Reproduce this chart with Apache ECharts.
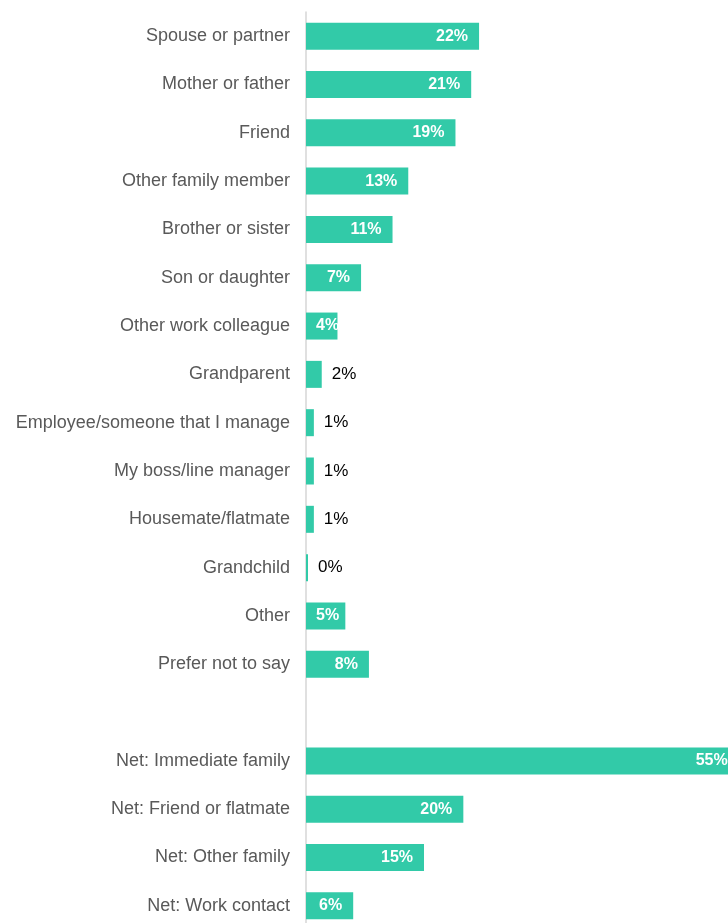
<!DOCTYPE html>
<html>
<head>
<meta charset="utf-8">
<style>
  html, body { margin: 0; padding: 0; background: #ffffff; overflow: hidden; }
  /* The plot runs past the right and bottom edges of the window on purpose:
     the longest bar is cut off by the page edge. */
  #chart { width: 778px; height: 930px; }
</style>
<script src="https://cdn.jsdelivr.net/npm/echarts@6/dist/echarts.min.js"></script>
</head>
<body>
<div id="chart"></div>
<script>
// Who respondents named, as a share of all answers (%)
const categories = [
  'Spouse or partner',
  'Mother or father',
  'Friend',
  'Other family member',
  'Brother or sister',
  'Son or daughter',
  'Other work colleague',
  'Grandparent',
  'Employee/someone that I manage',
  'My boss/line manager',
  'Housemate/flatmate',
  'Grandchild',
  'Other',
  'Prefer not to say',
  '',
  'Net: Immediate family',
  'Net: Friend or flatmate',
  'Net: Other family',
  'Net: Work contact'
];

const shares = [22, 21, 19, 13, 11, 7, 4, 2, 1, 1, 1, 0, 5, 8, null, 55, 20, 15, 6];

const barColor = '#32caa8';
const fontFamily = '"Liberation Sans", Arial, Helvetica, sans-serif';

// Wide bars carry their value inside in white bold; very short bars push
// the label to the start, and the smallest ones put it just past the end.
const seriesData = shares.map(v => {
  if (v === null) return '-';
  let label;
  if (v >= 6) {
    label = { position: 'insideRight', distance: 11, color: '#ffffff', fontWeight: 'bold', fontSize: 16 };
  } else if (v >= 4) {
    label = { position: 'insideLeft', distance: 10, color: '#ffffff', fontWeight: 'bold', fontSize: 16 };
  } else {
    label = { position: 'right', distance: 10, color: '#000000', fontWeight: 'normal', fontSize: 17 };
  }
  return { value: v, label };
});

const chart = echarts.init(document.getElementById('chart'), null, { renderer: 'canvas' });

chart.setOption({
  animation: false,
  backgroundColor: '#ffffff',
  grid: {
    left: 306,
    right: 0,
    top: 12,
    bottom: 0,
    containLabel: false
  },
  xAxis: {
    type: 'value',
    min: 0,
    max: 60,
    show: false
  },
  yAxis: {
    type: 'category',
    data: categories,
    inverse: true,
    axisLine: { show: true, lineStyle: { color: '#d6d6d6', width: 1.5 } },
    axisTick: { show: false },
    axisLabel: {
      color: '#595959',
      fontSize: 18,
      fontFamily: fontFamily,
      margin: 16
    },
    splitLine: { show: false }
  },
  series: [{
    type: 'bar',
    data: seriesData,
    barWidth: 27,
    barMinHeight: 2,
    itemStyle: { color: barColor },
    label: {
      show: true,
      fontFamily: fontFamily,
      formatter: p => p.value + '%'
    }
  }]
});
</script>
</body>
</html>
